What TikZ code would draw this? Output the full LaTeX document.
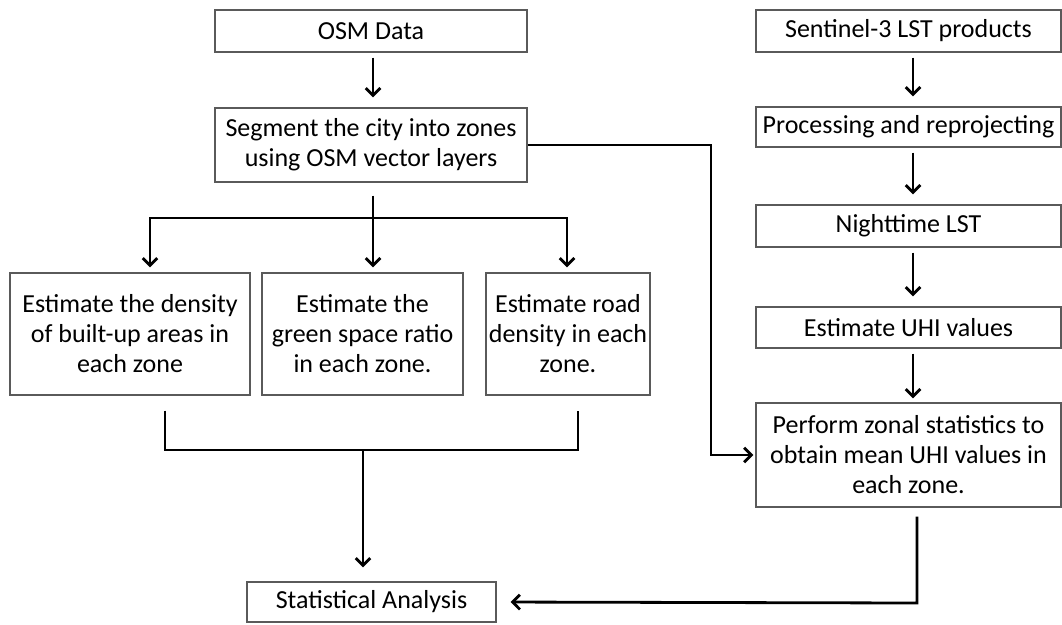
\documentclass[tikz,border=0pt]{standalone}
\usepackage{fontspec}
\setmainfont{Carlito}
\usetikzlibrary{arrows.meta}

\definecolor{boxgray}{RGB}{90,90,90}
\tikzset{every picture/.style={line width=0.75pt}}
\tikzset{
  flowbox/.style={draw=boxgray, line width=0.9pt, align=center, inner sep=0pt,
    font=\fontsize{19.5}{22.5}\selectfont},
  flowline/.style={line width=2.1pt, line join=miter},
  flowarrow/.style={flowline, -{Straight Barb[length=5.5pt,width=11pt,line width=2.1pt]}}
}

\begin{document}
\begin{tikzpicture}[x=0.75pt,y=0.75pt,yscale=-1,xscale=1]
\useasboundingbox (0,0) rectangle (1062,624);

% Left column
\node [flowbox, minimum width=234pt, minimum height=31.5pt] (osm) at (371,31) {OSM Data};
\node [flowbox, minimum width=234pt, minimum height=55.5pt] (seg) at (371,145) {Segment the city into zones\\using OSM vector layers};
% Estimation boxes
\node [flowbox, minimum width=180pt, minimum height=91.5pt] (build) at (130,334) {Estimate the density\\of built-up areas in\\each zone};
\node [flowbox, minimum width=150.75pt, minimum height=91.5pt] (green) at (362.5,334) {Estimate the\\green space ratio\\in each zone.};
\node [flowbox, minimum width=123pt, minimum height=91.5pt] (road) at (568,334) {Estimate road\\density in each\\zone.};
\node [flowbox, minimum width=186.75pt, minimum height=30pt] (stat) at (371.5,602) {Statistical Analysis};

% Right column
\node [flowbox, minimum width=228.75pt, minimum height=31.5pt] (sen) at (908.5,31) {Sentinel-3 LST products};
\node [flowbox, minimum width=228.75pt, minimum height=30pt] (proc) at (908.5,127) {Processing and reprojecting};
\node [flowbox, minimum width=228.75pt, minimum height=31.5pt] (night) at (908.5,226) {Nighttime LST};
\node [flowbox, minimum width=228.75pt, minimum height=30.75pt] (uhi) at (908.5,327.5) {Estimate UHI values};
\node [flowbox, minimum width=228.75pt, minimum height=78pt] (zonal) at (908.5,455) {Perform zonal statistics to\\obtain mean UHI values in\\each zone.};

% Bend points
\coordinate (split) at (373,218);
\coordinate (splitL) at (150,218);
\coordinate (splitR) at (567,218);
\coordinate (joinL) at (165,450);
\coordinate (joinR) at (578,450);
\coordinate (merge) at (363,450);
\coordinate (corner) at (711,145);
\coordinate (bend) at (917,603);

% OSM to segment
\draw [flowarrow, shorten <=3.75pt, shorten >=7.5pt] ([xshift=1.5pt]osm.south) -- ([xshift=1.5pt]seg.south |- seg.north);
% Segment split into three
\draw [flowline, shorten <=9.75pt] (seg.south -| split) -- (split);
\draw [flowline, line cap=rect] (splitL) -- (splitR);
\draw [flowarrow, shorten >=3.75pt] (splitL) -- (splitL |- build.north);
\draw [flowarrow, shorten >=3.75pt] (split) -- (split |- green.north);
\draw [flowarrow, shorten >=3.75pt] (splitR) -- (splitR |- road.north);
% Join to statistics
\draw [flowline, shorten <=11.25pt, shorten >=11.25pt] (joinL |- build.south) -- (joinL) -- (joinR) -- (joinR |- road.south);
\draw [flowarrow, shorten >=10.5pt] (merge) -- (merge |- stat.north);
% Segment to zonal statistics
\draw [flowarrow, shorten >=1.5pt] (seg.east) -- (corner) -- (corner |- zonal.west) -- (zonal.west);

% Right column arrows
\draw [flowarrow, shorten <=3.75pt, shorten >=7.5pt] ([xshift=3.4pt]sen.south) -- ([xshift=3.4pt]proc.north);
\draw [flowarrow, shorten <=3.75pt, shorten >=7.5pt] ([xshift=3.4pt]proc.south) -- ([xshift=3.4pt]night.north);
\draw [flowarrow, shorten <=3.75pt, shorten >=7.5pt] ([xshift=3.4pt]night.south) -- ([xshift=3.4pt]uhi.north);
\draw [flowarrow, shorten <=3.75pt, shorten >=3pt] ([xshift=3.4pt]uhi.south) -- ([xshift=3.4pt]zonal.north);
% Zonal statistics to analysis
\draw [flowarrow, shorten <=6.75pt, shorten >=10.5pt] (zonal.south -| bend) -- (bend) -- (stat.east);

\end{tikzpicture}
\end{document}
